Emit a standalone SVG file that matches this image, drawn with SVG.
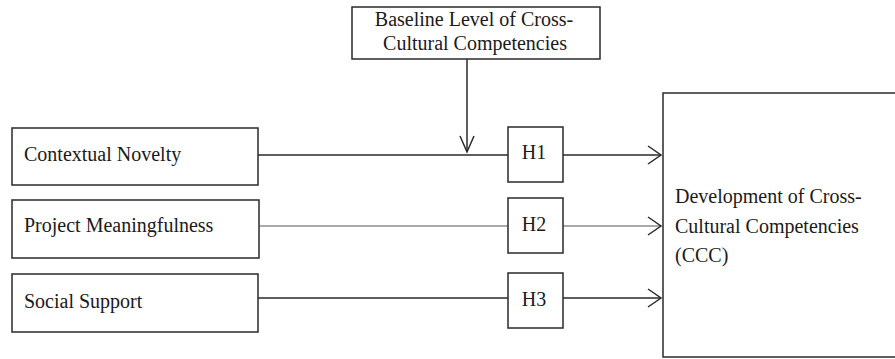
<svg xmlns="http://www.w3.org/2000/svg" width="895" height="359" viewBox="0 0 895 359">
<style>
.box{fill:#fff;stroke:#2a2a2a;stroke-width:1.5}
.t{font-family:"Liberation Serif","Times New Roman",serif;font-size:20px;fill:#1a1a1a}
.c{text-anchor:middle}
.ln{fill:none;stroke:#2a2a2a;stroke-width:1.5}
.thin{stroke:#555;stroke-width:1.2}
</style>
<defs>
<marker id="arr" markerUnits="userSpaceOnUse" markerWidth="16" markerHeight="20" viewBox="0 0 16 20" refX="14" refY="10" orient="auto">
<path d="M1,1 L14,10 L1,19" fill="none" stroke="#2a2a2a" stroke-width="1.5"/>
</marker>
<marker id="arrV" markerUnits="userSpaceOnUse" markerWidth="19" markerHeight="18" viewBox="0 0 19 18" refX="17" refY="9" orient="auto">
<path d="M1,2 L17,9 L1,16" fill="none" stroke="#2a2a2a" stroke-width="1.5"/>
</marker>
</defs>
<g id="baseline">
<rect class="box" x="352" y="7" width="248" height="52"/>
<text class="t c" x="474" y="26">Baseline Level of Cross-</text>
<text class="t c" x="475" y="50">Cultural Competencies</text>
</g>
<g id="novelty">
<rect class="box" x="12" y="128" width="246" height="57"/>
<text class="t" x="24" y="161">Contextual Novelty</text>
</g>
<g id="meaning">
<rect class="box" x="12" y="200" width="247" height="58"/>
<text class="t" x="24" y="232">Project Meaningfulness</text>
</g>
<g id="support">
<rect class="box" x="12" y="274" width="246" height="58"/>
<text class="t" x="24" y="308">Social Support</text>
</g>
<g id="connectors">
<line class="ln" x1="467" y1="59" x2="467" y2="152" marker-end="url(#arrV)"/>
<line class="ln" x1="258" y1="155" x2="508" y2="155"/>
<line class="ln" x1="563" y1="155" x2="661" y2="155" marker-end="url(#arr)"/>
<line class="ln thin" x1="259" y1="226" x2="508" y2="226"/>
<line class="ln thin" x1="563" y1="226" x2="661" y2="226" marker-end="url(#arr)"/>
<line class="ln" x1="258" y1="298" x2="508" y2="298"/>
<line class="ln" x1="563" y1="298" x2="661" y2="298" marker-end="url(#arr)"/>
</g>
<g id="h1">
<rect class="box" x="508" y="127" width="55" height="55"/>
<text class="t c" x="534" y="159">H1</text>
</g>
<g id="h2">
<rect class="box" x="508" y="198" width="55" height="55"/>
<text class="t c" x="534" y="231">H2</text>
</g>
<g id="h3">
<rect class="box" x="508" y="273" width="55" height="55"/>
<text class="t c" x="534" y="306">H3</text>
</g>
<g id="ccc">
<rect class="box" x="663" y="93" width="240" height="264"/>
<text class="t" x="675" y="203">Development of Cross-</text>
<text class="t" x="675" y="233">Cultural Competencies</text>
<text class="t" x="675" y="262">(CCC)</text>
</g>
</svg>
